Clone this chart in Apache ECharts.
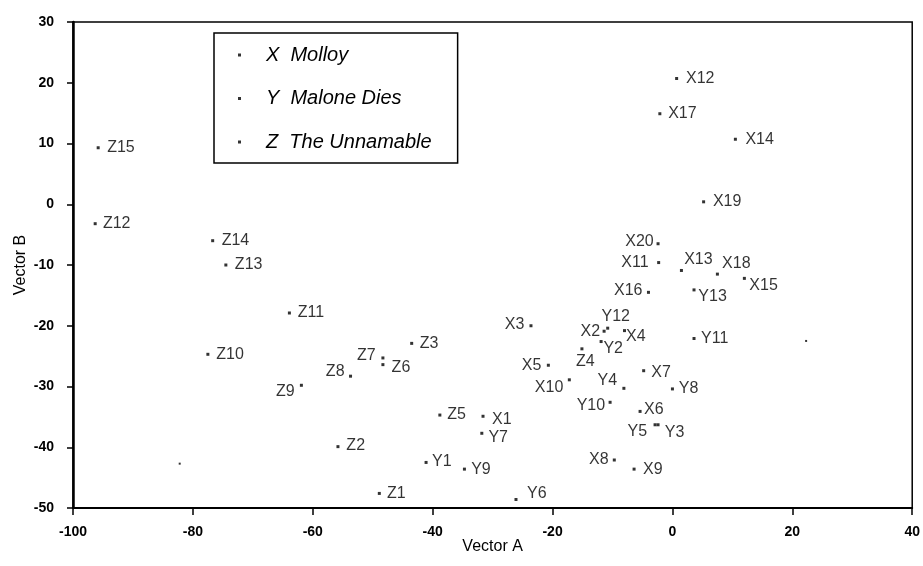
<!DOCTYPE html>
<html>
<head>
<meta charset="utf-8">
<script src="https://cdn.jsdelivr.net/npm/echarts@6/dist/echarts.min.js"></script>
<style>
  html, body { margin: 0; padding: 0; background: #fff; }
  #chart { width: 923px; height: 566px; }
</style>
</head>
<body>
<div id="chart"></div>
<script>
// ---- Data ----
const seriesNames = ["X Molloy", "Y Malone Dies", "Z The Unnamable"];

const xNames = ["X1","X2","X3","X4","X5","X6","X7","X8","X9","X10","X11","X12","X13","X14","X15","X16","X17","X18","X19","X20"];
const xVecA  = [-31.6,-11.4,-23.6,-8.0,-20.7,-5.4,-4.8,-9.7,-6.4,-17.2,-2.3,0.7,1.5,10.5,12.0,-4.0,-2.1,7.5,5.2,-2.4];
const xVecB  = [-34.9,-20.9,-20.0,-20.8,-26.5,-34.1,-27.4,-42.1,-43.6,-28.9,-9.6,20.7,-10.9,10.7,-12.2,-14.5,14.9,-11.5,0.4,-6.5];

const yNames = ["Y1","Y2","Y3","Y4","Y5","Y6","Y7","Y8","Y9","Y10","Y11","Y12","Y13"];
const yVecA  = [-41.1,-11.9,-2.4,-8.1,-2.9,-26.1,-31.8,0.0,-34.7,-10.4,3.6,-10.8,3.6];
const yVecB  = [-42.5,-22.6,-36.3,-30.3,-36.3,-48.6,-37.7,-30.4,-43.6,-32.6,-22.1,-20.4,-14.1];

const zNames = ["Z1","Z2","Z3","Z4","Z5","Z6","Z7","Z8","Z9","Z10","Z11","Z12","Z13","Z14","Z15"];
const zVecA  = [-48.9,-55.8,-43.5,-15.1,-38.8,-48.3,-48.3,-53.7,-61.9,-77.5,-63.9,-96.3,-74.5,-76.7,-95.8];
const zVecB  = [-47.6,-39.9,-22.9,-23.8,-34.7,-26.4,-25.3,-28.3,-29.8,-24.7,-17.9,-3.2,-10.0,-6.0,9.3];

// stray unlabeled dots visible in the picture
const strayVecA = [-82.2, 22.3];
const strayVecB = [-42.7, -22.5];

// ---- Label layout (styling, not data): [align, dx, dy] from dot centre ----
const labelLayout = {
  X1:["left",9,3], X2:["right",-4,0], X3:["right",-6.6,-1.5], X4:["left",1.6,5.7], X5:["right",-7,0],
  X6:["left",4,-2], X7:["left",7.6,1.6], X8:["right",-5.7,0], X9:["left",9,0], X10:["right",-6,7.6],
  X11:["right",-10,0], X12:["left",9.4,0], X13:["left",2.7,-11], X14:["left",10,0], X15:["left",5,7.6],
  X16:["right",-6,-2], X17:["left",8.3,0], X18:["left",4.7,-11], X19:["left",9.3,0], X20:["right",-4.3,-1.7],
  Y1:["left",6,-1], Y2:["left",2.3,6.7], Y3:["left",6.7,8.3], Y4:["right",-6.7,-7.3], Y5:["right",-8,7.3],
  Y6:["left",11,-6], Y7:["left",6.6,4], Y8:["left",6.4,0], Y9:["left",6.7,0], Y10:["right",-5,3],
  Y11:["left",7,0], Y12:["center",8,-12], Y13:["left",4.3,6.6],
  Z1:["left",7.7,0], Z2:["left",8.4,-1.5], Z3:["left",8,0], Z4:["center",3.4,12.6], Z5:["left",7.3,0],
  Z6:["left",8.7,3.3], Z7:["right",-7.3,-2.7], Z8:["right",-6,-5], Z9:["right",-6.7,6], Z10:["left",8.4,0],
  Z11:["left",8.3,0], Z12:["left",7.7,0], Z13:["left",9,0], Z14:["left",9,0], Z15:["left",9,0]
};

const FONT = "'Liberation Sans', Arial, Helvetica, sans-serif";

function buildPoints(names, a, b) {
  return names.map((n, i) => {
    const lay = labelLayout[n] || ["left", 8, 0];
    return {
      name: n,
      value: [a[i], b[i]],
      label: { align: lay[0], offset: [lay[1], lay[2]] }
    };
  });
}

function scatterSeries(name, names, a, b) {
  return {
    name: name,
    type: 'scatter',
    symbol: 'rect',
    symbolSize: 3,
    itemStyle: { color: '#000' },
    label: {
      show: true,
      position: 'inside',
      verticalAlign: 'middle',
      formatter: p => p.name,
      color: '#000',
      fontFamily: FONT,
      fontSize: 16
    },
    emphasis: { disabled: true },
    data: buildPoints(names, a, b)
  };
}

const chart = echarts.init(document.getElementById('chart'), null, { renderer: 'canvas' });

const option = {
  animation: false,
  backgroundColor: '#fff',
  grid: {
    left: 73, right: 9, top: 22, bottom: 58,
    show: true, borderColor: '#000', borderWidth: 1.5
  },
  legend: {
    data: seriesNames,
    orient: 'vertical',
    left: 214, top: 33,
    padding: [11, 26, 10, 24],
    itemWidth: 3, itemHeight: 3,
    itemGap: 21.5,
    icon: 'rect',
    borderColor: '#000',
    borderWidth: 1.5,
    backgroundColor: '#fff',
    selectedMode: false,
    formatter: n => n.replace(' ', '  '),
    textStyle: {
      fontFamily: FONT, fontSize: 20, fontStyle: 'italic', color: '#000',
      lineHeight: 22, padding: [0, 0, 0, 20]
    },
    itemStyle: { color: '#000' }
  },
  xAxis: {
    type: 'value',
    min: -100, max: 40, interval: 20,
    name: 'Vector A',
    nameLocation: 'middle',
    nameGap: 31,
    nameMoveOverlap: false,
    nameTextStyle: { fontFamily: FONT, fontSize: 16, color: '#000' },
    axisLine: { show: true, onZero: false, lineStyle: { color: '#000', width: 2 } },
    axisTick: { show: true, length: 7, lineStyle: { color: '#000', width: 1.5 } },
    axisLabel: { fontFamily: FONT, fontSize: 14, fontWeight: 'bold', color: '#000', margin: 17 },
    splitLine: { show: false }
  },
  yAxis: {
    type: 'value',
    min: -50, max: 30, interval: 10,
    name: 'Vector B',
    nameLocation: 'middle',
    nameGap: 44,
    nameMoveOverlap: false,
    nameTextStyle: { fontFamily: FONT, fontSize: 16, color: '#000' },
    axisLine: { show: true, onZero: false, lineStyle: { color: '#000', width: 2.5 } },
    axisTick: { show: true, length: 6, lineStyle: { color: '#000', width: 1.5 } },
    axisLabel: { fontFamily: FONT, fontSize: 14, fontWeight: 'bold', color: '#000', margin: 19 },
    splitLine: { show: false }
  },
  series: [
    scatterSeries(seriesNames[0], xNames, xVecA, xVecB),
    scatterSeries(seriesNames[1], yNames, yVecA, yVecB),
    scatterSeries(seriesNames[2], zNames, zVecA, zVecB),
    {
      name: 'unlabeled',
      type: 'scatter',
      symbol: 'rect',
      symbolSize: 2,
      itemStyle: { color: '#000' },
      emphasis: { disabled: true },
      data: strayVecA.map((v, i) => [v, strayVecB[i]])
    }
  ]
};

chart.setOption(option);
</script>
</body>
</html>
